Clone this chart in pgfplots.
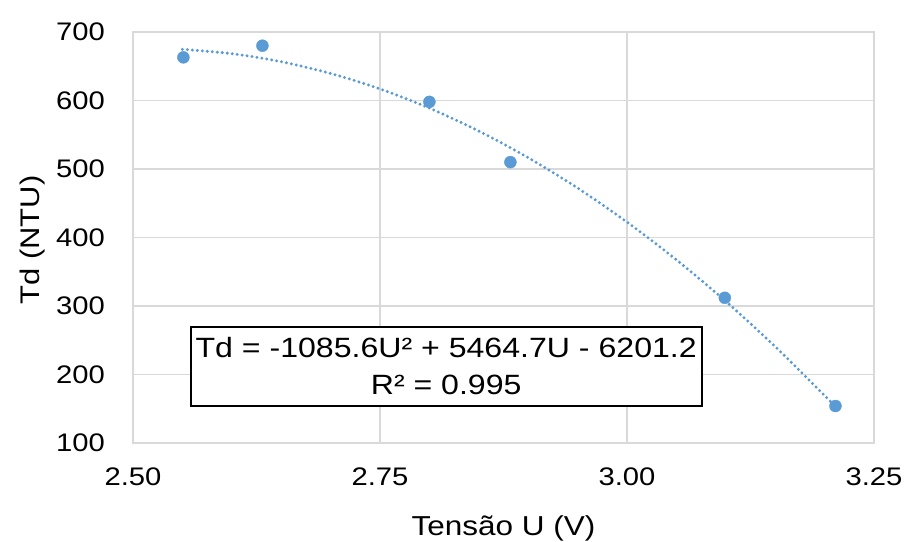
\documentclass[border=0pt]{standalone}
\usepackage{fontspec}
\setmainfont{Liberation Sans}[FakeStretch=1.15]
\usepackage{pgfplots}
\pgfplotsset{compat=1.18}
\definecolor{ptblue}{HTML}{5B9BD5}
\definecolor{gridgray}{HTML}{D9D9D9}
\begin{document}
\begin{tikzpicture}
\begin{axis}[
  scale only axis,
  width=741bp, height=411bp,
  xmin=2.5, xmax=3.25, ymin=100, ymax=700,
  xtick={2.5,2.75,3,3.25},
  ytick={100,200,300,400,500,600,700},
  x tick label style={/pgf/number format/fixed,/pgf/number format/fixed zerofill,/pgf/number format/precision=2, anchor=north},
  /pgf/number format/assume math mode=true,
  major tick length=0pt,
  grid=major,
  major grid style={gridgray, line width=1.3bp},
  axis line style={gridgray, line width=1.3bp},
  tick label style={font=\fontsize{25.5}{29}\selectfont, black, inner sep=0pt},
  y tick label style={anchor=east},
  every x tick label/.append style={yshift=-25bp},
  every y tick label/.append style={xshift=-28bp},
  xlabel={Tensão U (V)},
  ylabel={Td (NTU)},
  xlabel style={font=\fontsize{27.5}{31}\selectfont, at={(axis description cs:0.5,-0.224)}, anchor=base, inner sep=0pt},
  ylabel style={font=\fontsize{27}{31}\selectfont, at={(axis description cs:-0.1255,0.494)}, anchor=base, inner sep=0pt},
  clip=false,
]
\addplot[ptblue, line width=3.3bp, dash pattern=on 0pt off 5bp, line cap=round, smooth] coordinates {
 (2.55,674.7) (2.60,668.4) (2.65,656.6) (2.70,639.5) (2.75,616.9) (2.80,588.9)
 (2.85,555.4) (2.90,516.5) (2.95,472.2) (3.00,422.5) (3.05,367.4) (3.10,306.8)
 (3.15,240.7) (3.20,169.3) (3.21,154.4)
};
\addplot[only marks, mark=*, mark size=6bp, mark options={fill=ptblue, draw=ptblue}] coordinates {
 (2.551,663) (2.631,680) (2.800,598) (2.882,510) (3.099,312) (3.211,154)
};
\node[draw=black, line width=1.8bp, fill=white, align=center, inner xsep=5bp, inner ysep=11bp,
  font=\fontsize{28}{37}\selectfont] at (axis cs:2.817,212)
  {Td = -1085.6U² + 5464.7U - 6201.2\\R² = 0.995};
\coordinate (bl) at (rel axis cs:0,0);
\coordinate (tr) at (rel axis cs:1,1);
\end{axis}
\pgfresetboundingbox
\path[use as bounding box] ([shift={(-133bp,-99bp)}]bl) rectangle ([shift={(33bp,32bp)}]tr);
\end{tikzpicture}
\end{document}
